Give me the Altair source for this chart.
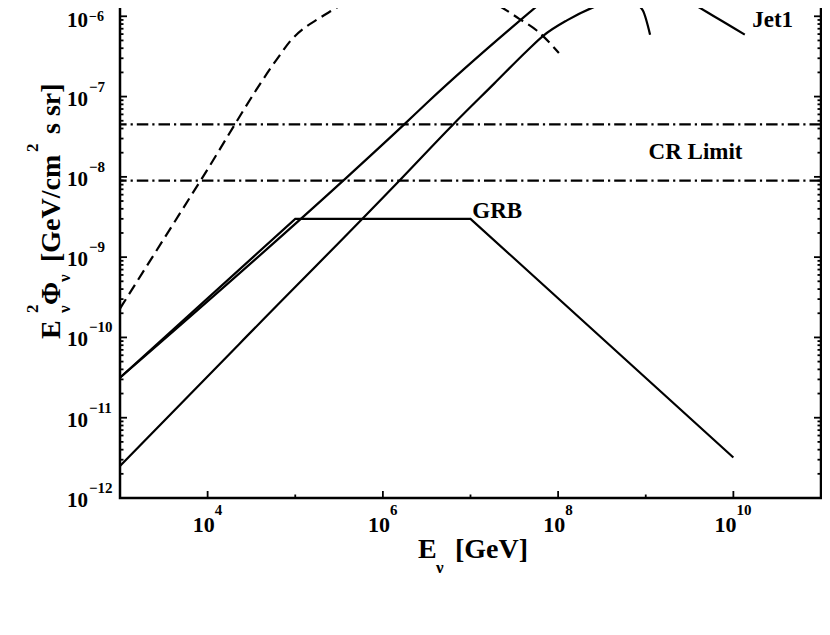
import altair as alt
import pandas as pd

# ---------------- data ----------------
# GRB broken power law
GRB_E = [1.0e3, 1.0e5, 1.0e7, 1.0e10]
GRB_F = [3.15e-11, 3.0e-9, 3.0e-9, 3.2e-12]

# upper solid jet curve (sharp cut-off near 1e9 GeV)
JETA_E = [1.0e3, 3.5e5, 1.74e6, 3.24e6, 3.6e7, 6.9e7, 1.6e8, 3.2e8, 5.0e8, 6.9e8, 9.3e8, 1.12e9]
JETA_F = [3.16e-11, 8.9e-9, 4.47e-8, 8.5e-8, 8.7e-7, 1.58e-6, 3.2e-6, 3.8e-6, 2.5e-6, 1.58e-6, 1.17e-6, 5.9e-7]

# Jet1 curve
JET1_E = [1.0e3, 2.3e4, 1.53e6, 6.3e6, 1.86e7, 4.4e7, 6.8e7, 1.26e8, 2.5e8, 4.3e8, 1.12e9, 2.85e9, 6.2e9, 1.35e10]
JET1_F = [2.5e-12, 8.3e-11, 8.9e-9, 4.47e-8, 1.45e-7, 3.7e-7, 5.75e-7, 8.9e-7, 1.29e-6, 1.58e-6, 2.1e-6, 1.58e-6, 9.8e-7, 5.9e-7]

# dashed curve
DASH_E = [1.0e3, 8.05e3, 6.49e4, 8.87e4, 1.245e5, 1.84e5, 2.72e5, 4.03e5, 1.0e6, 3.2e6, 7.9e6,
          1.55e7, 1.86e7, 3.6e7, 5.75e7, 1.02e8]
DASH_F = [2.29e-10, 8.5e-9, 3.15e-7, 4.98e-7, 7.03e-7, 9.33e-7, 1.21e-6, 1.57e-6, 3.2e-6, 4.0e-6, 3.2e-6,
          1.58e-6, 1.45e-6, 9.3e-7, 6.6e-7, 3.5e-7]

# cosmic-ray limit band (dash-dot lines)
CR_F = [9.0e-9, 4.5e-8]

# annotations
ANNOT_TEXT = ["Jet1", "CR Limit", "GRB"]
ANNOT_E = [1.64e10, 3.7e9, 1.05e7]
ANNOT_F = [7.35e-7, 1.69e-8, 3.1e-9]

# ticks
YTICK_EXP = [-12, -11, -10, -9, -8, -7, -6]
XTICK_LABEL_EXP = [4, 6, 8, 10]
XTICK_MINOR_EXP = [5, 7, 9]

# ---------------- chart ----------------
FONT = "Liberation Serif"
W, H = 701, 562
x_scale = alt.Scale(type="log", domain=[1e3, 1e11], nice=False)
y_scale = alt.Scale(type="log", domain=[1e-12, 1e-5], nice=False)


def X(f):
    return alt.X(f, type="quantitative", scale=x_scale, axis=None)


def Y(f):
    return alt.Y(f, type="quantitative", scale=y_scale, axis=None)


def series_df(name, es, fs):
    return pd.DataFrame({"series": name, "E": es, "F": fs, "order": range(len(es))})


smooth_df = pd.concat([series_df("JetA", JETA_E, JETA_F), series_df("Jet1", JET1_E, JET1_F)])
grb_df = series_df("GRB", GRB_E, GRB_F)
dash_df = series_df("dash", DASH_E, DASH_F)
cr_df = pd.DataFrame({"F": CR_F})

smooth = alt.Chart(smooth_df).mark_line(
    clip=True, color="black", strokeWidth=2.2, interpolate="monotone"
).encode(x=X("E"), y=Y("F"), detail="series:N", order="order:Q")

grb = alt.Chart(grb_df).mark_line(
    clip=True, color="black", strokeWidth=2.2, strokeJoin="miter"
).encode(x=X("E"), y=Y("F"), order="order:Q")

dashed = alt.Chart(dash_df).mark_line(
    clip=True, color="black", strokeWidth=2.2, interpolate="monotone", strokeDash=[11, 6]
).encode(x=X("E"), y=Y("F"), order="order:Q")

cr = alt.Chart(cr_df).mark_rule(
    color="black", strokeWidth=2.2, strokeDash=[11.5, 4, 2.2, 4]
).encode(y=Y("F"))

# ticks (inward, matlab style)
ymaj = pd.DataFrame({"v": [10.0 ** k for k in range(-12, -4)]})
ymin = pd.DataFrame({"v": [m * 10.0 ** k for k in range(-12, -5) for m in range(2, 10)]})
xmaj = pd.DataFrame({"v": [10.0 ** e for e in XTICK_LABEL_EXP]})
xmin = pd.DataFrame({"v": [10.0 ** e for e in XTICK_MINOR_EXP]})

tick_kw = dict(color="black", strokeWidth=1.8)
ticks = [
    alt.Chart(ymaj).mark_rule(**tick_kw).encode(y=Y("v"), x=alt.value(0), x2=alt.value(7)),
    alt.Chart(ymaj).mark_rule(**tick_kw).encode(y=Y("v"), x=alt.value(W), x2=alt.value(W - 7)),
    alt.Chart(ymin).mark_rule(**tick_kw).encode(y=Y("v"), x=alt.value(0), x2=alt.value(3.5)),
    alt.Chart(ymin).mark_rule(**tick_kw).encode(y=Y("v"), x=alt.value(W), x2=alt.value(W - 3.5)),
    alt.Chart(xmaj).mark_rule(**tick_kw).encode(x=X("v"), y=alt.value(H), y2=alt.value(H - 7)),
    alt.Chart(xmin).mark_rule(**tick_kw).encode(x=X("v"), y=alt.value(H), y2=alt.value(H - 3.5)),
]

txt = dict(font=FONT, fontWeight="bold", color="black", baseline="alphabetic")

ylab = pd.DataFrame({"v": [10.0 ** e for e in YTICK_EXP],
                     "exp": ["\u2212" + str(-e) for e in YTICK_EXP]})
ylab_top = ylab[ylab["v"] > 5e-7]      # topmost label: nudged down to stay inside the page
ylab_rest = ylab[ylab["v"] < 5e-7]
ybase = alt.Chart(ylab_rest).mark_text(text="10", fontSize=21, align="left", dy=9, **txt).encode(
    y=Y("v"), x=alt.value(-53))
yexp = alt.Chart(ylab_rest).mark_text(fontSize=15, align="left", dy=-5, **txt).encode(
    y=Y("v"), x=alt.value(-31), text="exp:N")
ybase_top = alt.Chart(ylab_top).mark_text(text="10", fontSize=21, align="left", dy=11, **txt).encode(
    y=Y("v"), x=alt.value(-53))
yexp_top = alt.Chart(ylab_top).mark_text(fontSize=14, align="left", dy=5, **txt).encode(
    y=Y("v"), x=alt.value(-31), text="exp:N")

xlab = pd.DataFrame({"v": [10.0 ** e for e in XTICK_LABEL_EXP],
                     "exp": [str(e) for e in XTICK_LABEL_EXP]})
xlab1 = xlab[xlab["exp"].str.len() == 1]
xlab2 = xlab[xlab["exp"].str.len() == 2]
xlabels = []
for d, off in [(xlab1, 7), (xlab2, 3)]:
    xlabels.append(alt.Chart(d).mark_text(text="10", fontSize=22, align="right", dx=off, **txt).encode(
        x=X("v"), y=alt.value(H + 34)))
    xlabels.append(alt.Chart(d).mark_text(fontSize=15, align="left", dx=off, **txt).encode(
        x=X("v"), y=alt.value(H + 17), text="exp:N"))

annot = pd.DataFrame({"t": ANNOT_TEXT, "E": ANNOT_E, "F": ANNOT_F})
ann_left = alt.Chart(annot[annot["t"] != "CR Limit"]).mark_text(fontSize=23, align="left", **txt).encode(
    x=X("E"), y=Y("F"), text="t:N")
ann_center = alt.Chart(annot[annot["t"] == "CR Limit"]).mark_text(fontSize=23, align="center", **txt).encode(
    x=X("E"), y=Y("F"), text="t:N")

one = pd.DataFrame({"k": [0]})


def piece(s, x, y, size, angle=0):
    kw = dict(txt)
    if angle:
        kw["angle"] = angle
    return alt.Chart(one).mark_text(text=s, fontSize=size, align="left", **kw).encode(
        x=alt.value(x), y=alt.value(y))


title_pieces = [
    # x title  E_nu [GeV]
    piece("E", 298, H + 60, 28),
    piece("\u03bd", 316, H + 75, 17),
    piece("[GeV]", 335, H + 60, 28),
    # y title  E_nu^2 Phi_nu [GeV/cm^2 s sr]  (rotated)
    piece("E", -60, 403, 28, 270),
    piece("2", -82, 377, 17, 270),
    piece("\u03bd", -50, 377, 17, 270),
    piece("\u03a6", -60, 369, 28, 270),
    piece("\u03bd", -50, 346, 17, 270),
    piece("[GeV/cm", -60, 326, 28, 270),
    piece("2", -82, 216, 17, 270),
    piece("s sr]", -60, 198, 28, 270),
]

chart = alt.layer(
    cr, grb, smooth, dashed, *ticks, ybase, yexp, ybase_top, yexp_top, *xlabels,
    ann_left, ann_center, *title_pieces
).properties(
    width=W,
    height=H,
    autosize=alt.AutoSizeParams(type="none"),
    padding={"left": 112, "top": -72, "right": 1, "bottom": 80},
    background="white",
).configure_view(stroke="black", strokeWidth=2.5)

chart.save("out.html", embed_options={"renderer": "svg", "actions": False})
